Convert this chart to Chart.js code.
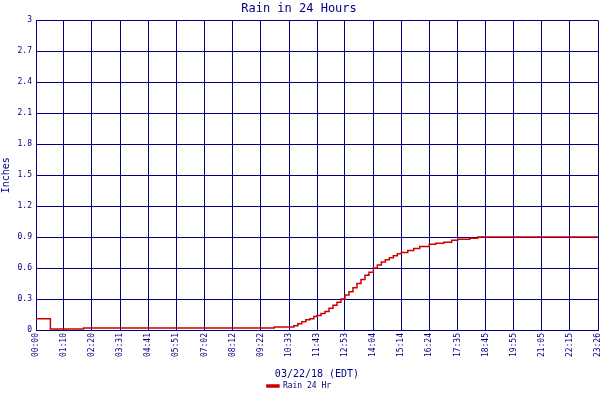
<!DOCTYPE html>
<html>
<head>
<meta charset="utf-8">
<script src="https://cdn.jsdelivr.net/npm/chart.js@4"></script>
<style>
  html, body { margin: 0; padding: 0; background: #fff; }
  #wrap { width: 600px; height: 400px; }
</style>
</head>
<body>
<div id="wrap"><canvas id="rain-chart"></canvas></div>
<script>
// Minutes since midnight and rain total (inches)
const times = [0, 35, 36, 118, 119, 595, 596, 633, 645, 655, 665, 675, 685, 695, 703, 713, 723, 733, 743, 753, 763, 773, 783, 793, 803, 813, 823, 833, 844, 854, 864, 874, 884, 894, 904, 914, 930, 945, 960, 984, 1000, 1020, 1040, 1055, 1070, 1085, 1105, 1125, 1406];
const rain24 = [0.11, 0.11, 0.01, 0.01, 0.02, 0.02, 0.03, 0.03, 0.04, 0.06, 0.08, 0.10, 0.11, 0.13, 0.14, 0.16, 0.18, 0.21, 0.24, 0.27, 0.30, 0.34, 0.37, 0.41, 0.45, 0.49, 0.53, 0.56, 0.60, 0.63, 0.66, 0.68, 0.70, 0.72, 0.74, 0.75, 0.77, 0.79, 0.81, 0.83, 0.84, 0.85, 0.87, 0.88, 0.88, 0.89, 0.90, 0.90, 0.90];
const xTickValues = [0, 70, 140, 211, 281, 351, 422, 492, 562, 633, 703, 773, 844, 914, 984, 1055, 1125, 1195, 1265, 1335, 1406];
const xTickLabels = ["00:00", "01:10", "02:20", "03:31", "04:41", "05:51", "07:02", "08:12", "09:22", "10:33", "11:43", "12:53", "14:04", "15:14", "16:24", "17:35", "18:45", "19:55", "21:05", "22:15", "23:26"];
const yTicks = [0, 0.3, 0.6, 0.9, 1.2, 1.5, 1.8, 2.1, 2.4, 2.7, 3];

const NAVY = "#000080";
const RED = "#cc0000";
const FONT = "DejaVu Sans Mono";

new Chart(document.getElementById("rain-chart"), {
    type: "line",
    data: {
        datasets: [{
            label: "Rain 24 Hr",
            data: times.map((t, i) => ({ x: t, y: rain24[i] })),
            borderColor: RED,
            backgroundColor: RED,
            borderWidth: 1.5,
            pointRadius: 0,
            stepped: true,
            fill: false,
        }],
    },
    options: {
        responsive: true,
        maintainAspectRatio: false,
        animation: false,
        layout: { padding: { right: 2, left: 0, bottom: 0 } },
        plugins: {
            title: {
                display: true,
                text: "Rain in 24 Hours",
                color: NAVY,
                font: { family: FONT, size: 12, weight: "normal" },
                padding: { top: 2, bottom: 4 },
            },
            legend: {
                position: "bottom",
                labels: {
                    color: NAVY,
                    font: { family: FONT, size: 8 },
                    boxWidth: 12,
                    boxHeight: 2,
                    padding: 2,
                },
            },
            tooltip: { enabled: false },
        },
        scales: {
            x: {
                type: "linear",
                min: xTickValues[0],
                max: xTickValues[xTickValues.length - 1],
                afterBuildTicks: (axis) => {
                    axis.ticks = xTickValues.map((v) => ({ value: v }));
                },
                afterFit: (axis) => {
                    axis.height = 50;
                    axis.paddingLeft = 0;
                    axis.paddingRight = 0;
                },
                ticks: {
                    color: NAVY,
                    font: { family: FONT, size: 8 },
                    maxRotation: 90,
                    minRotation: 90,
                    autoSkip: false,
                    callback: (v, i) => xTickLabels[i],
                },
                grid: { color: NAVY, lineWidth: 1, drawTicks: false },
                border: { color: NAVY },
                title: {
                    display: true,
                    text: "03/22/18 (EDT)",
                    color: NAVY,
                    font: { family: FONT, size: 10 },
                    padding: { top: 4, bottom: 0 },
                },
            },
            y: {
                min: 0,
                max: 3,
                afterBuildTicks: (axis) => {
                    axis.ticks = yTicks.map((v) => ({ value: v }));
                },
                afterFit: (axis) => { axis.width = 36; },
                ticks: {
                    color: NAVY,
                    font: { family: FONT, size: 8 },
                    padding: 4,
                    callback: (v) => String(Number(v.toFixed(1))),
                },
                grid: { color: NAVY, lineWidth: 1, drawTicks: false },
                border: { color: NAVY },
                title: {
                    display: true,
                    text: "Inches",
                    color: NAVY,
                    font: { family: FONT, size: 10 },
                    padding: 0,
                },
            },
        },
    },
});
</script>
</body>
</html>
